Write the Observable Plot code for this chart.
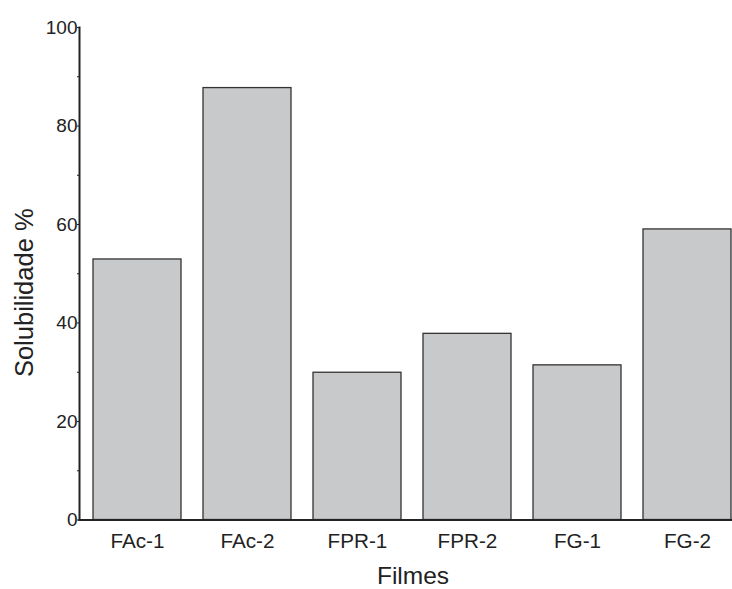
<!DOCTYPE html>
<html><head><meta charset="utf-8">
<script src="https://cdn.jsdelivr.net/npm/d3@7"></script>
<script src="https://cdn.jsdelivr.net/npm/@observablehq/plot@0.6"></script>
<style>body{margin:0;background:#fff;overflow:hidden} #chart{width:732px;height:589px}</style>
</head><body><div id="chart"></div>
<script>
const categories = ["FAc-1", "FAc-2", "FPR-1", "FPR-2", "FG-1", "FG-2"];
const values = [52.9, 87.7, 29.9, 37.8, 31.4, 59.0];
const yTicks = [0, 20, 40, 60, 80, 100];
const yMinorTicks = [10, 30, 50, 70, 90];
const xTitle = "Filmes";
const yTitle = "Solubilidade %";

const data = categories.map((c, i) => ({film: c, value: values[i]}));

const plot = Plot.plot({
  width: 732, height: 589,
  marginLeft: 79, marginRight: 0, marginTop: 27, marginBottom: 69.5,
  style: {fontFamily: "'Liberation Sans', Arial, sans-serif", background: "white", color: "#222", overflow: "hidden"},
  x: {domain: categories, range: [68.3, 755.3], padding: 0.2, label: null},
  y: {domain: [0, 100], label: null},
  marks: [
    Plot.barY(data, {x: "film", y: "value", fill: "#c8c9cb", stroke: "#333", strokeWidth: 1.3}),
    Plot.axisY({ticks: yTicks, tickSize: 2, tickPadding: 0, fontSize: 19, label: null}),
    Plot.axisY({ticks: yMinorTicks, tickSize: 2, tickFormat: () => "", label: null}),
    Plot.axisX({tickSize: 0, tickPadding: 13, fontSize: 20.7, label: null}),
    Plot.frame({anchor: "left", stroke: "#222", strokeWidth: 2}),
    Plot.frame({anchor: "bottom", stroke: "#222", strokeWidth: 2}),
    Plot.text([yTitle], {frameAnchor: "left", textAnchor: "middle", lineAnchor: "middle", text: d => d, rotate: -90, dx: -55, dy: 19, fontSize: 25.5, fill: "#222"}),
    Plot.text([xTitle], {frameAnchor: "bottom", textAnchor: "middle", lineAnchor: "middle", text: d => d, dx: 7, dy: 56.5, fontSize: 24.5, fill: "#222"})
  ]
});
document.getElementById("chart").append(plot);
</script>
</body></html>
